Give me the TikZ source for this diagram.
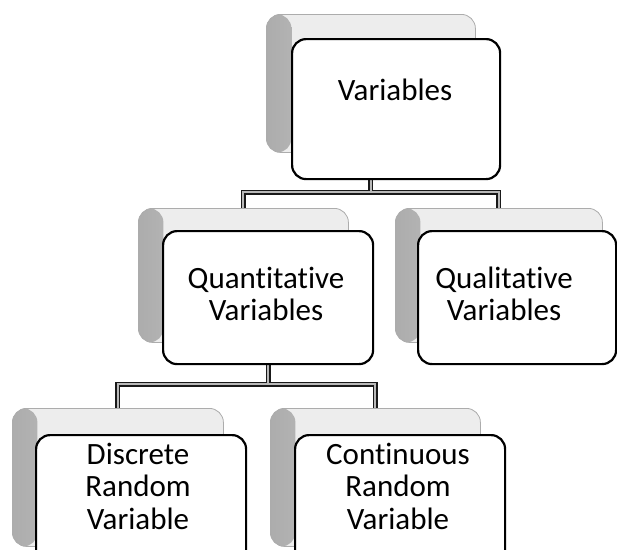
\documentclass[tikz,border=0pt]{standalone}
\usepackage{fontspec}
\setmainfont[Ligatures=NoCommon]{Carlito}
\pgfdeclarelayer{bg}
\pgfsetlayers{bg,main}
\tikzset{
  backbox/.style={draw=gray!65, line width=0.8pt, fill=gray!14, rounded corners=14pt,
    anchor=north west, inner sep=0pt,
    path picture={\shade[left color=gray!65,right color=gray!22]
      (path picture bounding box.south west) rectangle ([xshift=25pt]path picture bounding box.north west);}},
  frontbox/.style={draw=black, line width=2.2pt, fill=white, rounded corners=14pt,
    anchor=north west, inner sep=0pt},
  label30/.style={font=\fontsize{31}{32.5}\selectfont, align=center, inner sep=0pt},
  connout/.style={draw=black!90, line width=5pt},
  connin/.style={draw=gray!55, line width=2pt},
}
\begin{document}
\begin{tikzpicture}[x=1pt,y=-1pt]
\useasboundingbox (0,0) rectangle (617,549);
\clip (0,0) rectangle (617,549);
% level 1
\node[backbox, minimum width=209pt, minimum height=138pt] (v0) at (266,14) {};
\node[frontbox, minimum width=208pt, minimum height=140pt] (v1) at (291,38) {};
\node[label30] (vt) at (395,90) {Variables};
% level 2
\node[backbox, minimum width=210pt, minimum height=134pt] (q0) at (138,208) {};
\node[frontbox, minimum width=210pt, minimum height=133pt] (q1) at (162,230) {};
\node[label30] (qt) at (266,294) {Quantitative\\Variables};
\node[backbox, minimum width=207pt, minimum height=134pt] (l0) at (395,208) {};
\node[frontbox, minimum width=198pt, minimum height=133pt] (l1) at (417,230) {};
\node[label30] (lt) at (504,294) {Qualitative\\Variables};
% level 3
\node[backbox, minimum width=211pt, minimum height=138pt] (d0) at (12,408) {};
\node[frontbox, minimum width=210pt, minimum height=140pt] (d1) at (35,434) {};
\node[label30] (dt) at (138,486) {Discrete\\Random\\Variable};
\node[backbox, minimum width=210pt, minimum height=138pt] (c0) at (270,408) {};
\node[frontbox, minimum width=210pt, minimum height=140pt] (c1) at (294,434) {};
\node[label30] (ct) at (398,486) {Continuous\\Random\\Variable};
% connectors
\coordinate (b1) at (0,192);
\coordinate (b2) at (0,384);
\begin{pgfonlayer}{bg}
\foreach \s in {connout,connin}{
  \draw[\s] (q0.north) -- (q0.north |- b1) -- (l0.north |- b1) -- (l0.north);
  \draw[\s] (v0.south) -- (v0.south |- b1);
  \draw[\s] (d0.north) -- (d0.north |- b2) -- (c0.north |- b2) -- (c0.north);
  \draw[\s] (q1.south) -- (q1.south |- b2);
}
\end{pgfonlayer}
\end{tikzpicture}
\end{document}
